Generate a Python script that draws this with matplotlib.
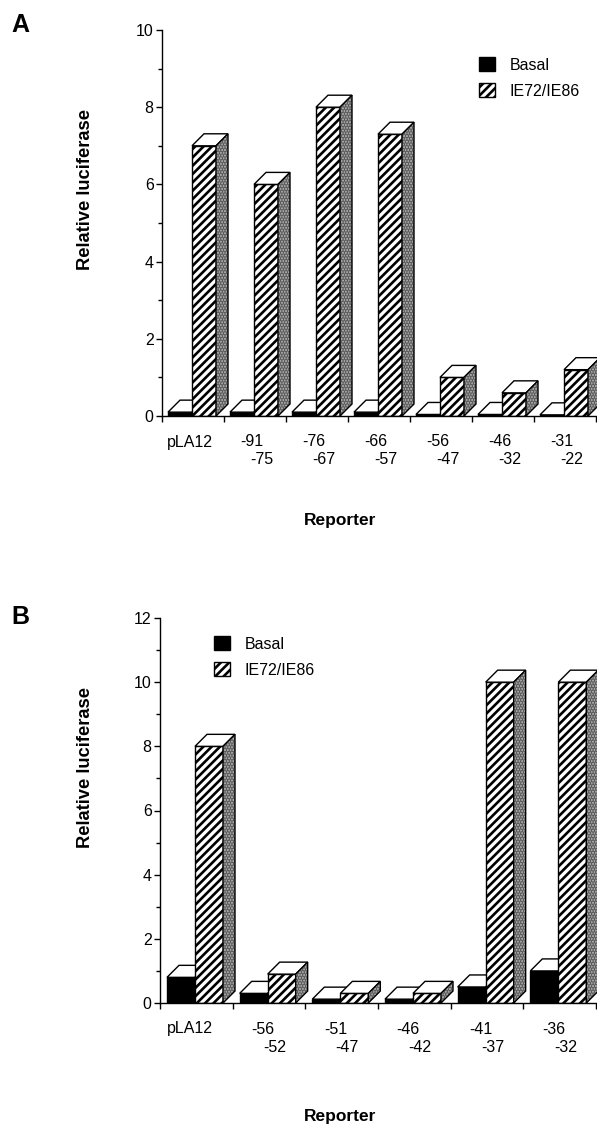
import matplotlib
matplotlib.use("Agg")
import matplotlib.pyplot as plt
from matplotlib.patches import Polygon, Patch

plt.rcParams['font.family'] = ['Liberation Sans', 'DejaVu Sans']
plt.rcParams['hatch.linewidth'] = 1.9

# ---------------- data ----------------
top_labels_A = ["pLA12", "-91", "-76", "-66", "-56", "-46", "-31"]
bottom_labels_A = ["", "-75", "-67", "-57", "-47", "-32", "-22"]
basal_A = [0.1, 0.1, 0.1, 0.1, 0.04, 0.04, 0.03]
ie_A = [7.0, 6.0, 8.0, 7.3, 1.0, 0.6, 1.2]

top_labels_B = ["pLA12", "-56", "-51", "-46", "-41", "-36"]
bottom_labels_B = ["", "-52", "-47", "-42", "-37", "-32"]
basal_B = [0.8, 0.3, 0.12, 0.12, 0.5, 1.0]
ie_B = [8.0, 0.9, 0.3, 0.3, 10.0, 10.0]

series_names = ["Basal", "IE72/IE86"]
yticks_A = [0, 2, 4, 6, 8, 10]
yticks_B = [0, 2, 4, 6, 8, 10, 12]

W, H = 597, 1128
DPI = 100
FS = 11.5
fig = plt.figure(figsize=(W / DPI, H / DPI), dpi=DPI)


def px_axes(left, top, right, bottom):
    return fig.add_axes([left / W, 1 - bottom / H, (right - left) / W, (bottom - top) / H])


def draw_panel(ax, basal, ie, top_labels, bottom_labels, ymax, yticks,
               off_px, bar_px, depth_px, lab_off1, lab_off2):
    n = len(basal)
    ax.set_xlim(0, n)
    ax.set_ylim(0, ymax)
    bb = ax.get_position()
    wpx = bb.width * W
    hpx = bb.height * H
    ppx = wpx / n
    ppy = hpx / ymax
    dx = depth_px / ppx
    dy = depth_px / ppy
    off = off_px / ppx
    bw = bar_px / ppx
    z = 1.0
    for i in range(n):
        for k, (vals, style) in enumerate(((basal, 'basal'), (ie, 'ie'))):
            h = vals[i]
            x0 = i + off + k * bw
            x1 = x0 + bw
            if style == 'basal':
                ax.bar(x0, h, width=bw, align='edge', facecolor='black',
                       edgecolor='black', linewidth=1.0, zorder=z)
            else:
                ax.bar(x0, h, width=bw, align='edge', facecolor='white',
                       edgecolor='black', hatch='////', linewidth=1.0, zorder=z)
            z += 0.01
            top = Polygon([(x0, h), (x0 + dx, h + dy), (x1 + dx, h + dy), (x1, h)],
                          closed=True, facecolor='white', edgecolor='black',
                          linewidth=1.0, zorder=z, clip_on=False)
            ax.add_patch(top)
            z += 0.01
            side_pts = [(x1, 0), (x1, h), (x1 + dx, h + dy), (x1 + dx, dy)]
            side = Polygon(side_pts, closed=True, facecolor='#b4b4b4',
                           edgecolor='#5a5a5a', hatch='......', linewidth=0,
                           zorder=z, clip_on=False)
            ax.add_patch(side)
            z += 0.01
            side_o = Polygon(side_pts, closed=True, fill=False, edgecolor='black',
                             linewidth=1.0, zorder=z, clip_on=False)
            ax.add_patch(side_o)
            z += 0.01

    for s in ('top', 'right'):
        ax.spines[s].set_visible(False)
    for s in ('left', 'bottom'):
        ax.spines[s].set_linewidth(1.0)
        ax.spines[s].set_zorder(z + 1)
    ax.set_yticks(yticks)
    ax.set_yticks([t + 1 for t in yticks[:-1]], minor=True)
    ax.set_yticklabels([str(t) for t in yticks], fontsize=FS)
    ax.tick_params(axis='y', which='major', direction='out', length=4, width=1.0, pad=2)
    ax.tick_params(axis='y', which='minor', direction='out', length=3, width=1.0)
    ax.set_xticks(range(n + 1))
    ax.set_xticklabels([''] * (n + 1))
    ax.tick_params(axis='x', which='major', direction='out', length=4, width=1.0)
    for i in range(n):
        ax.annotate(top_labels[i], xy=(i, 0), xycoords=('data', 'axes fraction'),
                    xytext=(lab_off1, -26), textcoords='offset pixels',
                    ha='center', va='center', fontsize=FS, annotation_clip=False)
        if bottom_labels[i]:
            ax.annotate(bottom_labels[i], xy=(i, 0), xycoords=('data', 'axes fraction'),
                        xytext=(lab_off2, -44), textcoords='offset pixels',
                        ha='center', va='center', fontsize=FS, annotation_clip=False)


def legend(ax, x_px, y_px):
    handles = [Patch(facecolor='black', edgecolor='black'),
               Patch(facecolor='white', edgecolor='black', hatch='////')]
    ax.legend(handles, series_names, loc='upper left',
              bbox_to_anchor=(x_px / W, 1 - y_px / H), bbox_transform=fig.transFigure,
              frameon=False, fontsize=FS, handlelength=1.0, handleheight=1.0,
              handletextpad=0.9, labelspacing=0.65, borderpad=0, borderaxespad=0)


# Panel A
axA = px_axes(162, 30, 596, 416)
draw_panel(axA, basal_A, ie_A, top_labels_A, bottom_labels_A, 10, yticks_A,
           off_px=6, bar_px=24, depth_px=12, lab_off1=28, lab_off2=38)
legend(axA, 479, 57)

# Panel B
axB = px_axes(160, 618, 596, 1003)
draw_panel(axB, basal_B, ie_B, top_labels_B, bottom_labels_B, 12, yticks_B,
           off_px=7, bar_px=28, depth_px=12, lab_off1=30, lab_off2=42)
legend(axB, 214, 636)

# Axis titles and panel letters
fig.text(86 / W, 1 - 189 / H, "Relative luciferase", rotation=90, ha='center',
         va='center', fontsize=13.2, fontweight='bold')
fig.text(86 / W, 1 - 768 / H, "Relative luciferase", rotation=90, ha='center',
         va='center', fontsize=13.2, fontweight='bold')
fig.text(340 / W, 1 - 521 / H, "Reporter", ha='center', va='center',
         fontsize=12.5, fontweight='bold')
fig.text(340 / W, 1 - 1116 / H, "Reporter", ha='center', va='center',
         fontsize=12.5, fontweight='bold')
fig.text(11 / W, 1 - 25 / H, "A", ha='left', va='center', fontsize=18, fontweight='bold')
fig.text(11 / W, 1 - 617 / H, "B", ha='left', va='center', fontsize=18, fontweight='bold')

fig.savefig("out.png", dpi=DPI, facecolor='white')
